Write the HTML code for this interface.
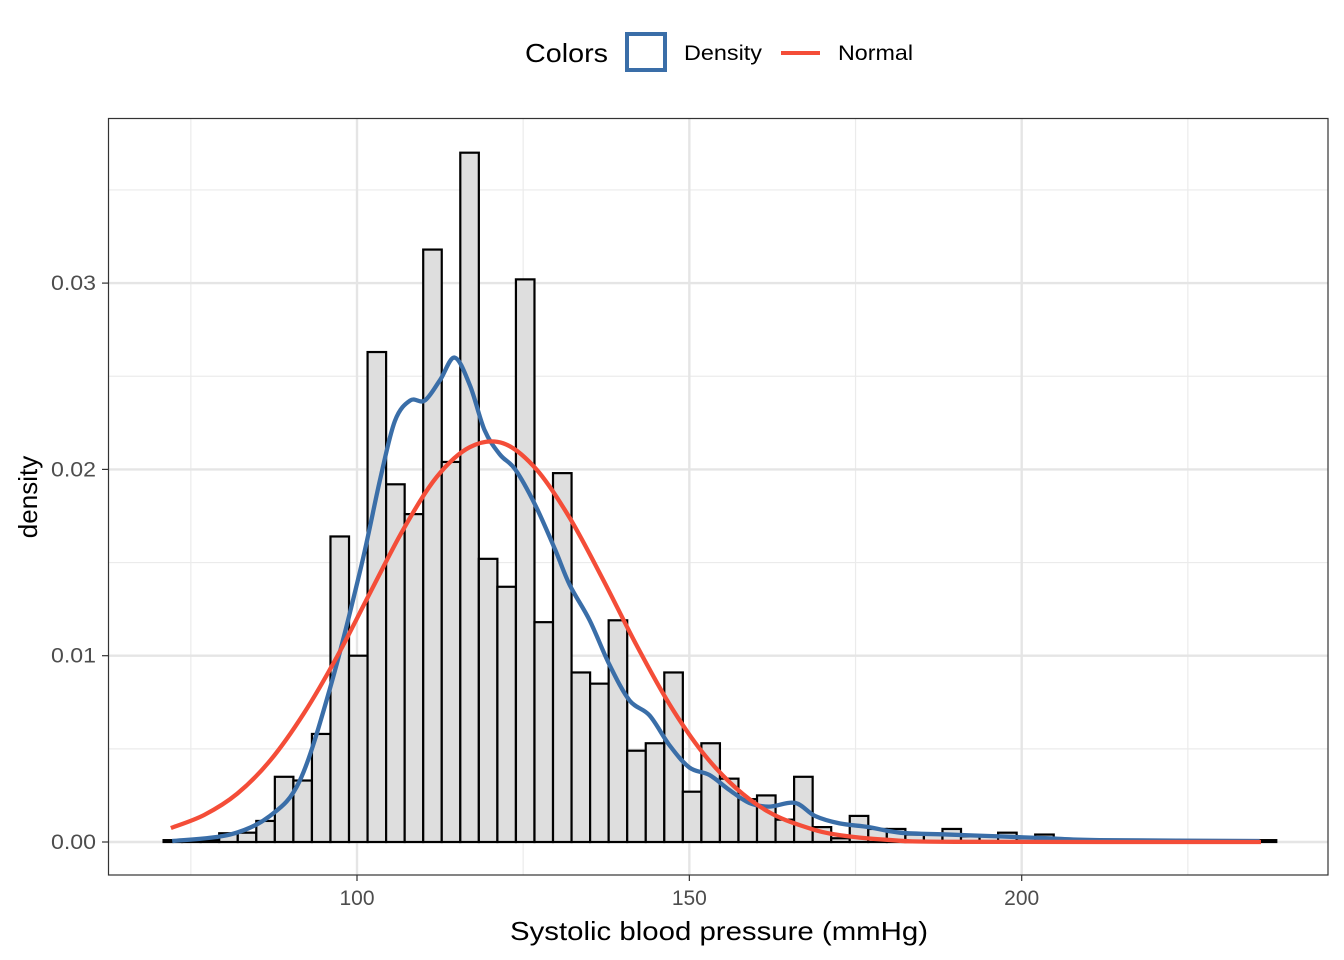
<!DOCTYPE html>
<html><head><meta charset="utf-8"><style>
html,body{margin:0;padding:0;background:#fff;}
svg{display:block;font-family:"Liberation Sans",Arial,sans-serif;}
</style></head><body>
<svg id="chart" width="1344" height="960" viewBox="0 0 1344 960">
<rect x="0" y="0" width="1344" height="960" fill="#fff"/>
<g id="grid"></g>
<g id="bars"></g>
<g id="curves"></g>
<rect x="108.5" y="118.5" width="1219.5" height="756.5" fill="none" stroke="#333" stroke-width="1.2"/>
<g id="axes"></g>
<text x="510" y="940" font-size="26" textLength="418" lengthAdjust="spacingAndGlyphs" fill="#000">Systolic blood pressure (mmHg)</text>
<text transform="translate(37,497) rotate(-90)" text-anchor="middle" font-size="26" fill="#000">density</text>
<g>
<text x="525" y="62" font-size="26" textLength="83" lengthAdjust="spacingAndGlyphs" fill="#000">Colors</text>
<rect x="627" y="34" width="38" height="36" fill="none" stroke="#3a6ea8" stroke-width="4"/>
<text x="684" y="60" font-size="21" textLength="78" lengthAdjust="spacingAndGlyphs" fill="#000">Density</text>
<line x1="781" y1="53" x2="820" y2="53" stroke="#f44d38" stroke-width="4"/>
<text x="838" y="60" font-size="21" textLength="75" lengthAdjust="spacingAndGlyphs" fill="#000">Normal</text>
</g>
</svg>
<script>
const binStart = 70.9;
const binWidth = 2.79;
const barValues = [0.0001,0.0001,0.0001,0.00047,0.0005,0.00113,0.0035,0.0033,0.0058,0.0164,0.0100,0.0263,0.0192,0.0176,0.0318,0.0204,0.0370,0.0152,0.0137,0.0302,0.0118,0.0198,0.0091,0.0085,0.0119,0.0049,0.0053,0.0091,0.0027,0.0053,0.0034,0.0023,0.0025,0.0012,0.0035,0.0008,0.0002,0.0014,0.0007,0.0007,0.0004,0.0004,0.0007,0.0003,0.0003,0.0005,0.0002,0.0004,0.0001,0.0001,0.0001,0.0001,0.0001,0.0001,0.0001,0.0001,0.0001,0.0001,0.0001,0.0001];
const densityX = [72.2,80.9,86.9,91.4,95.9,100.5,103.5,105.7,108,110.2,112.5,114.7,117,119.2,121.5,123.8,126.8,129.8,132,135,138,141,144,147,150,153,156,159,162,165.9,168.9,172.6,177,181.7,189,196.7,204,211.7,235.8];
const densityY = [0.00005,0.0004,0.0014,0.0033,0.0082,0.0146,0.0195,0.0226,0.0237,0.0237,0.0248,0.026,0.0245,0.0221,0.0208,0.020,0.0181,0.0157,0.0138,0.0119,0.0095,0.0076,0.0068,0.0052,0.004,0.0036,0.0028,0.0021,0.0019,0.0021,0.0014,0.001,0.0008,0.0005,0.0004,0.0003,0.0002,0.0001,0.00005];
const normalX = [72,77,82,87,92,97,102,107,112,117,122,127,132,137,142,147,152,157,162,167,172,180,190,236];
const normalY = [0.00075,0.00145,0.0026,0.0044,0.0069,0.00995,0.0134,0.0168,0.0196,0.0212,0.0214,0.0200,0.0174,0.0141,0.0106,0.0074,0.0048,0.0029,0.0016,0.00086,0.0004,0.00011,0.00001,0];
const xTicks = [100,150,200];
const xMinor = [75,125,175,225];
const yTicks = [0,0.01,0.02,0.03];
const yMinor = [0.005,0.015,0.025,0.035];

const NS="http://www.w3.org/2000/svg";
function sx(v){return 357+(v-100)*6.647;}
function sy(v){return 842-v*18630;}
function mk(tag,attrs,parent){const e=document.createElementNS(NS,tag);for(const k in attrs)e.setAttribute(k,attrs[k]);parent.appendChild(e);return e;}
const grid=document.getElementById('grid'),bars=document.getElementById('bars'),curves=document.getElementById('curves'),axes=document.getElementById('axes');
xMinor.forEach(v=>{const l=mk('line',{x1:sx(v),x2:sx(v),y1:119,y2:875,stroke:'#ebebeb','stroke-width':1.2},grid);

});
yMinor.forEach(v=>{const l=mk('line',{x1:109,x2:1328,y1:sy(v),y2:sy(v),stroke:'#ebebeb','stroke-width':1.2},grid);

});
xTicks.forEach(v=>{const l=mk('line',{x1:sx(v),x2:sx(v),y1:119,y2:875,stroke:'#e5e5e5','stroke-width':2.4},grid);


mk('line',{x1:sx(v),x2:sx(v),y1:875,y2:881,stroke:'#333','stroke-width':1.2},axes);
const t=mk('text',{x:sx(v),y:905,'text-anchor':'middle','font-size':21,fill:'#4d4d4d'},axes);t.textContent=v;

});
yTicks.forEach(v=>{const l=mk('line',{x1:109,x2:1328,y1:sy(v),y2:sy(v),stroke:'#e5e5e5','stroke-width':2.4},grid);


mk('line',{x1:102,x2:108,y1:sy(v),y2:sy(v),stroke:'#333','stroke-width':1.2},axes);
const t=mk('text',{x:96,y:sy(v)+7,'text-anchor':'end','font-size':21,fill:'#4d4d4d',textLength:45,lengthAdjust:'spacingAndGlyphs'},axes);t.textContent=v.toFixed(2);

});
barValues.forEach((v,i)=>{const x0=sx(binStart+i*binWidth),x1=sx(binStart+(i+1)*binWidth);
const r=mk('rect',{x:x0,y:sy(v),width:x1-x0,height:sy(0)-sy(v),fill:'#dedede',stroke:'#000','stroke-width':2.2},bars);

});
function smooth(xs,ys){const p=xs.map((x,i)=>[sx(x),sy(ys[i])]);let d='M'+p[0][0]+','+p[0][1];
for(let i=0;i<p.length-1;i++){const p0=p[Math.max(0,i-1)],p1=p[i],p2=p[i+1],p3=p[Math.min(p.length-1,i+2)];
d+=' C'+(p1[0]+(p2[0]-p0[0])/6)+','+(p1[1]+(p2[1]-p0[1])/6)+' '+(p2[0]-(p3[0]-p1[0])/6)+','+(p2[1]-(p3[1]-p1[1])/6)+' '+p2[0]+','+p2[1];}
return d;}
const dl=mk('path',{d:smooth(densityX,densityY),fill:'none',stroke:'#3a6ea8','stroke-width':4.3,'stroke-linejoin':'round'},curves);


const nl=mk('path',{d:smooth(normalX,normalY),fill:'none',stroke:'#f44d38','stroke-width':4.3,'stroke-linejoin':'round'},curves);


</script>
</body></html>
